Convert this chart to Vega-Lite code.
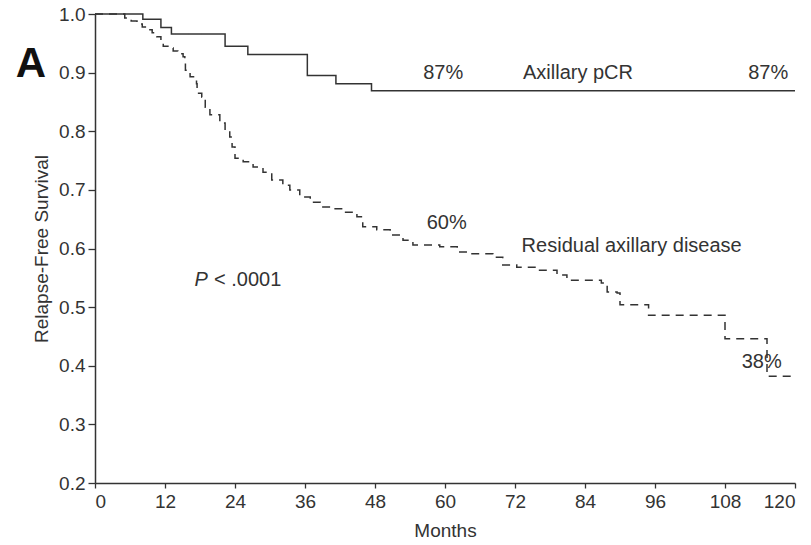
{
  "$schema": "https://vega.github.io/schema/vega-lite/v6.json",
  "width": 700,
  "height": 469,
  "autosize": {"type": "none"},
  "padding": {"left": 95, "top": 14, "right": 16, "bottom": 62},
  "background": "white",
  "config": {
    "view": {"stroke": null},
    "font": "Liberation Sans",
    "axis": {"grid": false, "domainColor": "#333", "tickColor": "#333", "labelColor": "#333", "titleColor": "#333", "domainWidth": 1.5, "tickWidth": 1.3, "labelFontSize": 19, "titleFontSize": 19, "titleFontWeight": "normal", "labelFont": "Liberation Sans", "titleFont": "Liberation Sans"}
  },
  "datasets": {
    "curves": [
      {"series": "pCR", "month": 0, "surv": 1.0},
      {"series": "pCR", "month": 8.2, "surv": 0.991},
      {"series": "pCR", "month": 11.3, "surv": 0.977},
      {"series": "pCR", "month": 13.1, "surv": 0.966},
      {"series": "pCR", "month": 22.3, "surv": 0.945},
      {"series": "pCR", "month": 26.2, "surv": 0.931},
      {"series": "pCR", "month": 36.4, "surv": 0.895},
      {"series": "pCR", "month": 41.3, "surv": 0.881},
      {"series": "pCR", "month": 47.4, "surv": 0.869},
      {"series": "pCR", "month": 120, "surv": 0.869},
      {"series": "Residual", "month": 0, "surv": 1.0},
      {"series": "Residual", "month": 5.1, "surv": 0.993},
      {"series": "Residual", "month": 6.2, "surv": 0.988},
      {"series": "Residual", "month": 7.2, "surv": 0.983},
      {"series": "Residual", "month": 8.1, "surv": 0.978},
      {"series": "Residual", "month": 8.9, "surv": 0.973},
      {"series": "Residual", "month": 9.8, "surv": 0.968},
      {"series": "Residual", "month": 10.6, "surv": 0.961},
      {"series": "Residual", "month": 11.3, "surv": 0.954},
      {"series": "Residual", "month": 11.7, "surv": 0.945},
      {"series": "Residual", "month": 12.5, "surv": 0.942},
      {"series": "Residual", "month": 13.4, "surv": 0.937},
      {"series": "Residual", "month": 14.2, "surv": 0.932},
      {"series": "Residual", "month": 15.1, "surv": 0.927},
      {"series": "Residual", "month": 15.4, "surv": 0.916},
      {"series": "Residual", "month": 15.5, "surv": 0.904},
      {"series": "Residual", "month": 16.3, "surv": 0.893},
      {"series": "Residual", "month": 17.4, "surv": 0.881},
      {"series": "Residual", "month": 17.5, "surv": 0.865},
      {"series": "Residual", "month": 18.3, "surv": 0.858},
      {"series": "Residual", "month": 18.9, "surv": 0.841},
      {"series": "Residual", "month": 19.7, "surv": 0.828},
      {"series": "Residual", "month": 21.4, "surv": 0.814},
      {"series": "Residual", "month": 22.3, "surv": 0.800},
      {"series": "Residual", "month": 23.1, "surv": 0.790},
      {"series": "Residual", "month": 23.5, "surv": 0.773},
      {"series": "Residual", "month": 24.0, "surv": 0.754},
      {"series": "Residual", "month": 25.4, "surv": 0.748},
      {"series": "Residual", "month": 27.1, "surv": 0.739},
      {"series": "Residual", "month": 28.8, "surv": 0.730},
      {"series": "Residual", "month": 30.3, "surv": 0.717},
      {"series": "Residual", "month": 32.2, "surv": 0.708},
      {"series": "Residual", "month": 33.4, "surv": 0.700},
      {"series": "Residual", "month": 35.1, "surv": 0.688},
      {"series": "Residual", "month": 36.9, "surv": 0.679},
      {"series": "Residual", "month": 38.6, "surv": 0.671},
      {"series": "Residual", "month": 40.8, "surv": 0.668},
      {"series": "Residual", "month": 42.5, "surv": 0.662},
      {"series": "Residual", "month": 44.9, "surv": 0.654},
      {"series": "Residual", "month": 45.9, "surv": 0.637},
      {"series": "Residual", "month": 48.3, "surv": 0.632},
      {"series": "Residual", "month": 50.6, "surv": 0.623},
      {"series": "Residual", "month": 52.8, "surv": 0.614},
      {"series": "Residual", "month": 54.5, "surv": 0.606},
      {"series": "Residual", "month": 59.1, "surv": 0.603},
      {"series": "Residual", "month": 62.1, "surv": 0.594},
      {"series": "Residual", "month": 64.3, "surv": 0.591},
      {"series": "Residual", "month": 68.2, "surv": 0.585},
      {"series": "Residual", "month": 69.9, "surv": 0.572},
      {"series": "Residual", "month": 72.3, "surv": 0.568},
      {"series": "Residual", "month": 75.8, "surv": 0.563},
      {"series": "Residual", "month": 79.2, "surv": 0.555},
      {"series": "Residual", "month": 80.9, "surv": 0.546},
      {"series": "Residual", "month": 86.8, "surv": 0.541},
      {"series": "Residual", "month": 87.8, "surv": 0.526},
      {"series": "Residual", "month": 89.5, "surv": 0.524},
      {"series": "Residual", "month": 90.0, "surv": 0.504},
      {"series": "Residual", "month": 94.9, "surv": 0.486},
      {"series": "Residual", "month": 108.0, "surv": 0.446},
      {"series": "Residual", "month": 115.2, "surv": 0.382},
      {"series": "Residual", "month": 119.5, "surv": 0.382}
    ],
    "labels": [
      {"text": "87%", "month": 59.7, "surv": 0.899},
      {"text": "Axillary pCR", "month": 82.8, "surv": 0.899},
      {"text": "87%", "month": 115.4, "surv": 0.899},
      {"text": "60%", "month": 60.3, "surv": 0.644},
      {"text": "Residual axillary disease", "month": 92.0, "surv": 0.604},
      {"text": "38%", "month": 114.3, "surv": 0.406}
    ],
    "pvalue": [
      {"text": "< .0001", "month": 20.4, "surv": 0.546}
    ]
  },
  "layer": [
    {
      "data": {"name": "curves"},
      "mark": {"type": "line", "interpolate": "step-after", "color": "#333", "strokeWidth": 1.5},
      "encoding": {
        "x": {"field": "month", "type": "quantitative", "scale": {"domain": [0, 120], "nice": false}, "axis": {"values": [0, 12, 24, 36, 48, 60, 72, 84, 96, 108, 120], "title": "Months", "tickSize": 5, "labelPadding": 4, "titlePadding": 10}},
        "y": {"field": "surv", "type": "quantitative", "scale": {"domain": [0.2, 1.0], "nice": false, "zero": false}, "axis": {"values": [0.2, 0.3, 0.4, 0.5, 0.6, 0.7, 0.8, 0.9, 1.0], "format": ".1f", "title": "Relapse-Free Survival", "tickSize": 7, "labelPadding": 3, "titlePadding": 7}},
        "detail": {"field": "series"},
        "strokeDash": {"field": "series", "type": "nominal", "scale": {"domain": ["pCR", "Residual"], "range": [[1, 0], [8, 6]]}, "legend": null}
      }
    },
    {
      "data": {"name": "labels"},
      "mark": {"type": "text", "fontSize": 20, "color": "#333", "baseline": "middle", "align": "center", "font": "Liberation Sans"},
      "encoding": {
        "x": {"field": "month", "type": "quantitative"},
        "y": {"field": "surv", "type": "quantitative"},
        "text": {"field": "text"}
      }
    },
    {
      "data": {"name": "pvalue"},
      "mark": {"type": "text", "fontSize": 20, "color": "#333", "baseline": "middle", "align": "left", "font": "Liberation Sans"},
      "encoding": {
        "x": {"field": "month", "type": "quantitative"},
        "y": {"field": "surv", "type": "quantitative"},
        "text": {"field": "text"}
      }
    },
    {
      "data": {"values": [{"text": "P", "month": 18.2, "surv": 0.546}]},
      "mark": {"type": "text", "fontSize": 20, "color": "#333", "baseline": "middle", "align": "center", "fontStyle": "italic", "font": "Liberation Sans"},
      "encoding": {
        "x": {"field": "month", "type": "quantitative"},
        "y": {"field": "surv", "type": "quantitative"},
        "text": {"field": "text"}
      }
    },
    {
      "data": {"values": [{"text": "A", "month": -11.0, "surv": 0.915}]},
      "mark": {"type": "text", "fontSize": 42, "color": "#111", "baseline": "middle", "align": "center", "fontWeight": "bold", "font": "Liberation Sans"},
      "encoding": {
        "x": {"field": "month", "type": "quantitative"},
        "y": {"field": "surv", "type": "quantitative"},
        "text": {"field": "text"}
      }
    }
  ]
}
